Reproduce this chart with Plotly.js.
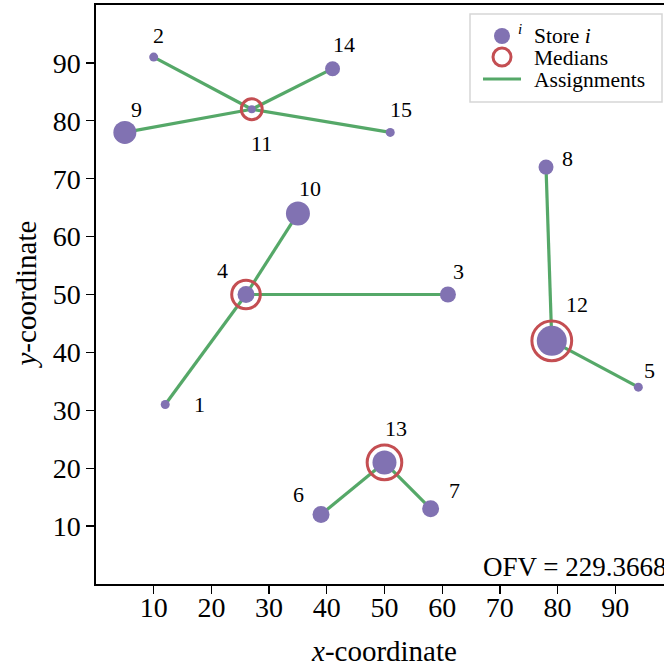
<!DOCTYPE html>
<html><head><meta charset="utf-8">
<script src="https://cdn.plot.ly/plotly-3.0.1.min.js"></script>
<style>html,body{margin:0;padding:0;background:#fff;overflow:hidden;}</style>
</head><body><div id="chart" style="width:664px;height:667px;"></div>
<script>
// ---- data ----
const storeIds = [1,2,3,4,5,6,7,8,9,10,11,12,13,14,15];
const storeX = [12,10,61,26,94,39,58,78,5,35,27,79,50,41,51];
const storeY = [31,91,50,50,34,12,13,72,78,64,82,42,21,89,78];
const storeDemand = [9,9,16,17,9,17,17,15,23,24,8,30,24,15,9];
const assignedMedian = [4,11,4,4,12,13,13,12,11,4,11,12,13,11,11];
const medianIds = [4,11,12,13];
const xTicks = [10,20,30,40,50,60,70,80,90];
const yTicks = [10,20,30,40,50,60,70,80,90];
const ofvText = 'OFV = 229.3668';

// label offsets (px, right / down) for the store number labels
const labelDx = [34,5,11,-24,11,-23,24,21,12,12,10,25,12,11,11];
const labelDy = [0,-22,-23,-24,-17,-20,-18,-9,-23,-25,34,-36,-34,-24,-23];

const PURPLE = '#8172B2', RED = '#C44E52', GREEN = '#55A868';
const FONT = 'Liberation Serif, Times New Roman, serif';

// ---- build traces ----
const idx = id => storeIds.indexOf(id);
const lx = [], ly = [];
storeIds.forEach((id, i) => {
  const m = assignedMedian[i];
  if (m !== id) {
    lx.push(storeX[i], storeX[idx(m)], null);
    ly.push(storeY[i], storeY[idx(m)], null);
  }
});

const traces = [
  {type:'scatter', mode:'lines', x:lx, y:ly, line:{color:GREEN, width:3.2}, hoverinfo:'skip', cliponaxis:false},
  {type:'scatter', mode:'markers', x:storeX, y:storeY,
   marker:{color:PURPLE, opacity:1, size:storeDemand, line:{width:0}}, cliponaxis:false},
  {type:'scatter', mode:'markers',
   x:medianIds.map(id => storeX[idx(id)]), y:medianIds.map(id => storeY[idx(id)]),
   marker:{symbol:'circle-open', color:RED, opacity:1, size:medianIds.map(id => 0.86*storeDemand[idx(id)] + 14), line:{width:3, color:RED}},
   cliponaxis:false}
];

// ---- layout helpers (pixel -> paper for legend decorations) ----
const L = 96, T = 5, B = 83, W = 664, H = 667;
const PW = W - L, PH = H - T - B;
const px = p => (p - L) / PW;
const py = p => (H - B - p) / PH;

const annotations = storeIds.map((id, i) => ({
  x: storeX[i], y: storeY[i], xref:'x', yref:'y', text: String(id), showarrow:false,
  xshift: labelDx[i], yshift: -labelDy[i], xanchor:'center', yanchor:'middle',
  font:{family:FONT, size:22, color:'#000'}
}));

annotations.push(
  {xref:'x', yref:'paper', x:50, y:py(651), text:'<i>x</i>-coordinate', showarrow:false,
   xanchor:'center', yanchor:'middle', font:{family:FONT, size:29, color:'#000'}},
  {xref:'paper', yref:'y', x:px(25), y:50, text:'<i>y</i>-coordinate', showarrow:false, textangle:-90,
   xanchor:'center', yanchor:'middle', font:{family:FONT, size:29, color:'#000'}},
  {xref:'paper', yref:'paper', x:px(481), y:py(584), text:ofvText, showarrow:false,
   xanchor:'left', yanchor:'bottom', font:{family:FONT, size:27, color:'#000'}},
  // legend texts
  {xref:'paper', yref:'paper', x:px(516), y:py(29), text:'<i>i</i>', showarrow:false,
   xanchor:'left', yanchor:'middle', font:{family:FONT, size:15, color:'#000'}},
  {xref:'paper', yref:'paper', x:px(532), y:py(36), text:'Store <i>i</i>', showarrow:false,
   xanchor:'left', yanchor:'middle', font:{family:FONT, size:21.5, color:'#000'}},
  {xref:'paper', yref:'paper', x:px(532), y:py(58), text:'Medians', showarrow:false,
   xanchor:'left', yanchor:'middle', font:{family:FONT, size:21.5, color:'#000'}},
  {xref:'paper', yref:'paper', x:px(532), y:py(80), text:'Assignments', showarrow:false,
   xanchor:'left', yanchor:'middle', font:{family:FONT, size:21.5, color:'#000'}}
);

const shapes = [
  {type:'rect', xref:'paper', yref:'paper', x0:px(470), x1:px(662), y0:py(14), y1:py(102),
   line:{color:'#d6d6d6', width:1.5}, fillcolor:'rgba(255,255,255,0.8)', layer:'above'},
  {type:'circle', xref:'paper', yref:'paper', xsizemode:'pixel', ysizemode:'pixel',
   xanchor:px(502), yanchor:py(36), x0:-8, x1:8, y0:-8, y1:8, fillcolor:PURPLE, line:{width:0}, layer:'above'},
  {type:'circle', xref:'paper', yref:'paper', xsizemode:'pixel', ysizemode:'pixel',
   xanchor:px(502), yanchor:py(57), x0:-9, x1:9, y0:-9, y1:9, fillcolor:'rgba(0,0,0,0)', line:{width:3, color:RED}, layer:'above'},
  {type:'line', xref:'paper', yref:'paper', x0:px(483), x1:px(521), y0:py(79), y1:py(79),
   line:{width:3.2, color:GREEN}, layer:'above'}
];

const axisCommon = {
  ticks:'outside', ticklen:8, tickwidth:1.3, tickcolor:'#000',
  showline:true, linecolor:'#000', linewidth:1.6,
  showgrid:false, zeroline:false,
  tickfont:{family:FONT, size:28, color:'#000'}
};

const layout = {
  width:W, height:H,
  margin:{l:L, r:0, t:T, b:B, pad:0},
  paper_bgcolor:'#fff', plot_bgcolor:'#fff',
  showlegend:false,
  xaxis:Object.assign({}, axisCommon, {range:[0, 98.45], tickvals:xTicks, ticktext:xTicks.map(String), mirror:true, ticklabelstandoff:-10}),
  yaxis:Object.assign({}, axisCommon, {range:[0, 100], tickvals:yTicks, ticktext:yTicks.map(String), mirror:false, ticklabelstandoff:0}),
  annotations:annotations,
  shapes:shapes
};

Plotly.newPlot('chart', traces, layout, {displayModeBar:false, staticPlot:true});
</script>
</body></html>
